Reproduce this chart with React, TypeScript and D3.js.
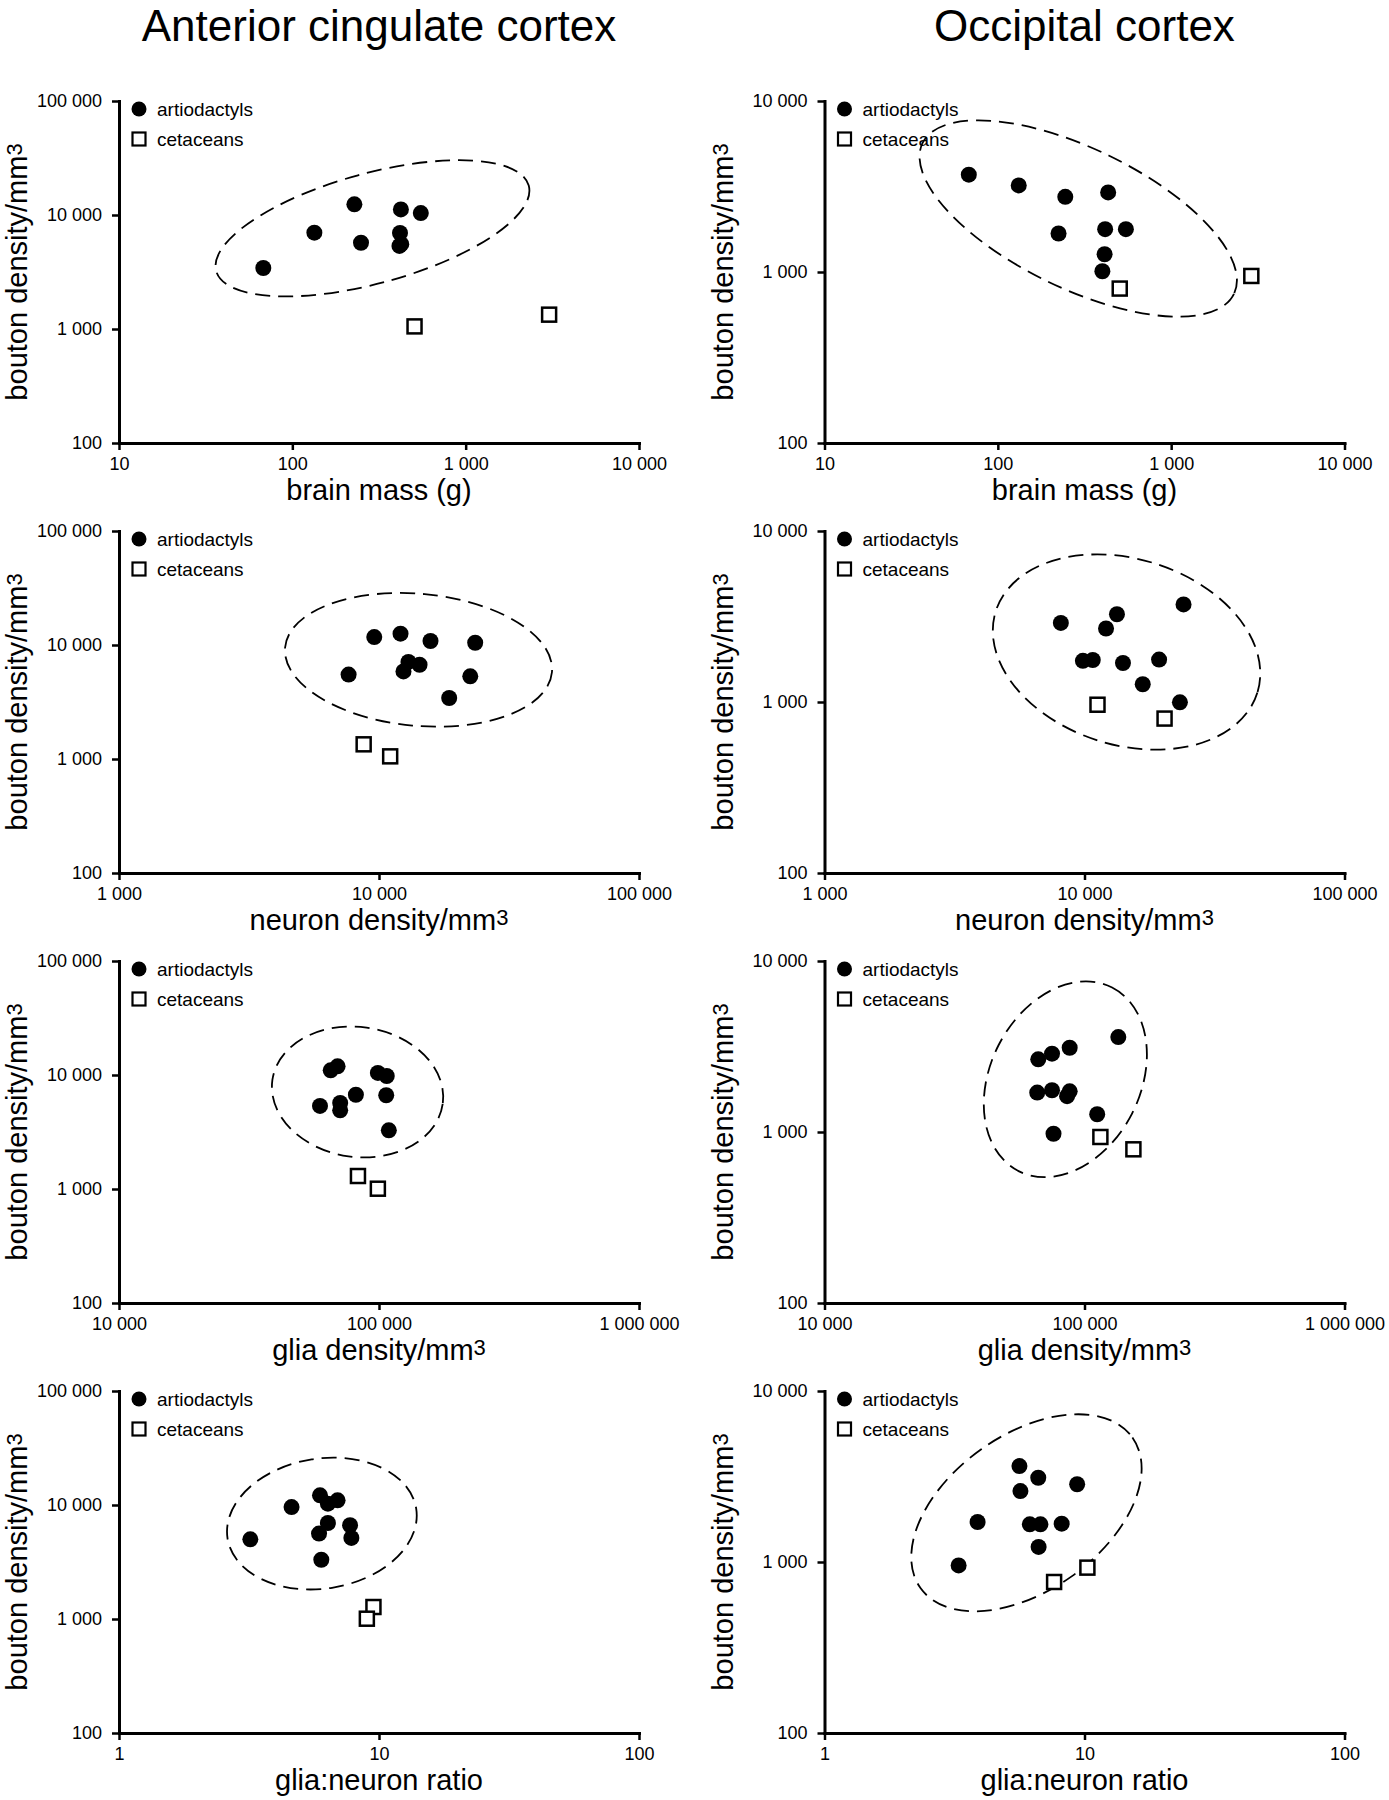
import React, { useEffect, useRef } from 'react';
import * as d3 from 'd3';

// titles and labels
const columnTitles = ['Anterior cingulate cortex', 'Occipital cortex'];
const legendLabels = ['artiodactyls', 'cetaceans'];
const yLabel = 'bouton density/mm';
const xLabels = ['brain mass (g)', 'neuron density/mm', 'glia density/mm', 'glia:neuron ratio'];
const xLabelCubed = [false, true, true, false];

// tick values: x per row, y per column
const xTicks = [
  [10, 100, 1000, 10000],
  [1000, 10000, 100000],
  [10000, 100000, 1000000],
  [1, 10, 100],
];
const yTicks = [
  [100, 1000, 10000, 100000],
  [100, 1000, 10000],
];

// [x, bouton density] — anterior cingulate cortex
const accBrainArtio = [[68, 3430], [134, 7000], [228, 12400], [249, 5710], [423, 11200], [418, 6950], [415, 5350], [425, 5550], [551, 10400]];
const accBrainCet = [[507, 1054], [3030, 1336]];
const accNeuronArtio = [[7640, 5500], [9590, 11740], [12100, 12560], [15780, 10840], [23440, 10470], [12980, 7100], [14320, 6710], [12420, 5870], [22440, 5310], [18620, 3430]];
const accNeuronCet = [[8730, 1345], [11040, 1055]];
const accGliaArtio = [[65200, 10990], [69300, 11920], [99000, 10420], [107100, 9800], [81500, 6710], [106600, 6640], [59300, 5350], [70900, 5680], [70900, 4900], [109100, 3270]];
const accGliaCet = [[83000, 1300], [99000, 1006]];
const accRatioArtio = [[3.2, 5000], [4.61, 9590], [5.93, 12160], [6.36, 10270], [6.93, 10990], [6.36, 6950], [5.88, 5610], [7.74, 6640], [7.83, 5140], [6.0, 3310]];
const accRatioCet = [[9.52, 1274], [8.98, 1006]];

// occipital cortex
const occBrainArtio = [[68, 3710], [132, 3210], [245, 2750], [433, 2920], [224, 1680], [416, 1780], [548, 1780], [413, 1270], [401, 1010]];
const occBrainCet = [[505, 800], [2900, 948]];
const occNeuronArtio = [[8110, 2900], [13330, 3260], [12100, 2690], [24040, 3720], [9860, 1740], [10760, 1760], [14060, 1690], [19360, 1770], [16750, 1270], [23280, 996]];
const occNeuronCet = [[11220, 964], [20320, 800]];
const occGliaArtio = [[66400, 2660], [75000, 2870], [87700, 3110], [134900, 3590], [65800, 1700], [75000, 1755], [87700, 1730], [85700, 1620], [111900, 1270], [76000, 977]];
const occGliaCet = [[115100, 935], [154200, 792]];
const occRatioArtio = [[5.62, 3640], [6.64, 3110], [9.37, 2850], [5.67, 2600], [3.88, 1714], [6.16, 1660], [6.77, 1660], [8.17, 1675], [6.66, 1225], [3.28, 955]];
const occRatioCet = [[7.64, 764], [10.26, 927]];

// dashed group ellipses: [centre x, centre y, semi-axis a, semi-axis b, rotation]
const accEllipses = [[290, 7640, 162, 55, -15.3], [14190, 7410, 134, 66, 5.3], [82700, 7100, 86, 65, 8], [6.03, 6870, 95.5, 65, -9]];
const occEllipses = [[291, 2055, 173, 70, 25.8], [14510, 1960, 137, 93, 17.2], [84400, 2033, 103, 75, -63], [5.98, 1940, 130, 78, -35.4]];

const artioByCol = [
  [accBrainArtio, accNeuronArtio, accGliaArtio, accRatioArtio],
  [occBrainArtio, occNeuronArtio, occGliaArtio, occRatioArtio],
];
const cetByCol = [
  [accBrainCet, accNeuronCet, accGliaCet, accRatioCet],
  [occBrainCet, occNeuronCet, occGliaCet, occRatioCet],
];
const ellipsesByCol = [accEllipses, occEllipses];

const FONT = '"Liberation Sans", Arial, Helvetica, sans-serif';

const App = () => {
  const svgRef = useRef(null);

  useEffect(() => {
    const colX = [119, 824.5];
    const rowTop = [101, 531, 961, 1391];
    const plotW = 520;
    const plotH = 342;

    d3.select(svgRef.current).selectAll('*').remove();
    const svg = d3.select(svgRef.current)
      .attr('width', 1389)
      .attr('height', 1800)
      .style('font-family', FONT);

    const fmt = d3.formatLocale({ decimal: '.', thousands: ' ', grouping: [3], currency: ['', ''] }).format(',d');

    // column titles
    columnTitles.forEach((t, c) => {
      svg.append('text')
        .attr('x', colX[c] + plotW / 2)
        .attr('y', 41)
        .attr('text-anchor', 'middle')
        .style('font-size', '44px')
        .text(t);
    });

    for (let c = 0; c < 2; c++) {
      for (let r = 0; r < 4; r++) {
        const g = svg.append('g')
          .attr('transform', `translate(${colX[c]},${rowTop[r]})`);

        const xt = xTicks[r];
        const yt = yTicks[c];
        const x = d3.scaleLog().domain([xt[0], xt[xt.length - 1]]).range([0, plotW]);
        const y = d3.scaleLog().domain([yt[0], yt[yt.length - 1]]).range([plotH, 0]);

        // dashed ellipse
        const [ecx, ecy, ea, eb, eang] = ellipsesByCol[c][r];
        g.append('ellipse')
          .attr('transform', `translate(${x(ecx)},${y(ecy)}) rotate(${eang})`)
          .attr('rx', ea)
          .attr('ry', eb)
          .attr('fill', 'none')
          .attr('stroke', '#000')
          .attr('stroke-width', 1.8)
          .attr('stroke-dasharray', '15 8');

        // X axis
        const xa = g.append('g')
          .attr('transform', `translate(0,${plotH})`)
          .call(d3.axisBottom(x).tickValues(xt).tickFormat(d => fmt(d)).tickSize(7).tickSizeOuter(0).tickPadding(7));
        // Y axis
        const ya = g.append('g')
          .call(d3.axisLeft(y).tickValues(yt).tickFormat(d => fmt(d)).tickSize(7).tickSizeOuter(0).tickPadding(10));

        [xa, ya].forEach(a => {
          a.attr('font-family', FONT).attr('font-size', 18);
          a.select('.domain').attr('stroke-width', 3).attr('stroke-linecap', 'square');
          a.selectAll('.tick line').attr('stroke-width', 2.5);
          a.selectAll('.tick text').attr('fill', '#000');
        });

        // points
        g.selectAll('.artio')
          .data(artioByCol[c][r])
          .enter()
          .append('circle')
            .attr('cx', d => x(d[0]))
            .attr('cy', d => y(d[1]))
            .attr('r', 8)
            .attr('fill', '#000');

        g.selectAll('.cet')
          .data(cetByCol[c][r])
          .enter()
          .append('rect')
            .attr('x', d => x(d[0]) - 7)
            .attr('y', d => y(d[1]) - 7)
            .attr('width', 14)
            .attr('height', 14)
            .attr('fill', '#fff')
            .attr('stroke', '#000')
            .attr('stroke-width', 2.5);

        // legend
        g.append('circle').attr('cx', 20).attr('cy', 8).attr('r', 7.5).attr('fill', '#000');
        g.append('rect').attr('x', 13.5).attr('y', 31.5).attr('width', 13).attr('height', 13)
          .attr('fill', '#fff').attr('stroke', '#000').attr('stroke-width', 2.2);
        legendLabels.forEach((l, i) => {
          g.append('text')
            .attr('x', 38)
            .attr('y', 15 + i * 30)
            .style('font-size', '19px')
            .text(l);
        });

        // X axis label
        const xl = g.append('text')
          .attr('x', plotW / 2)
          .attr('y', plotH + 57)
          .attr('text-anchor', 'middle')
          .style('font-size', '29px')
          .text(xLabels[r]);
        if (xLabelCubed[r]) {
          xl.append('tspan').attr('dy', -5).style('font-size', '22px').text('3');
        }

        // Y axis label
        const yl = g.append('text')
          .attr('transform', 'rotate(-90)')
          .attr('x', -plotH / 2)
          .attr('y', -92)
          .attr('text-anchor', 'middle')
          .style('font-size', '29px')
          .text(yLabel);
        yl.append('tspan').attr('dy', -5).style('font-size', '22px').text('3');
      }
    }
  }, []);

  return (
    <div style={{ position: 'absolute', left: 0, top: 0, background: '#fff' }}>
      <svg ref={svgRef}></svg>
    </div>
  );
};

export default App;
